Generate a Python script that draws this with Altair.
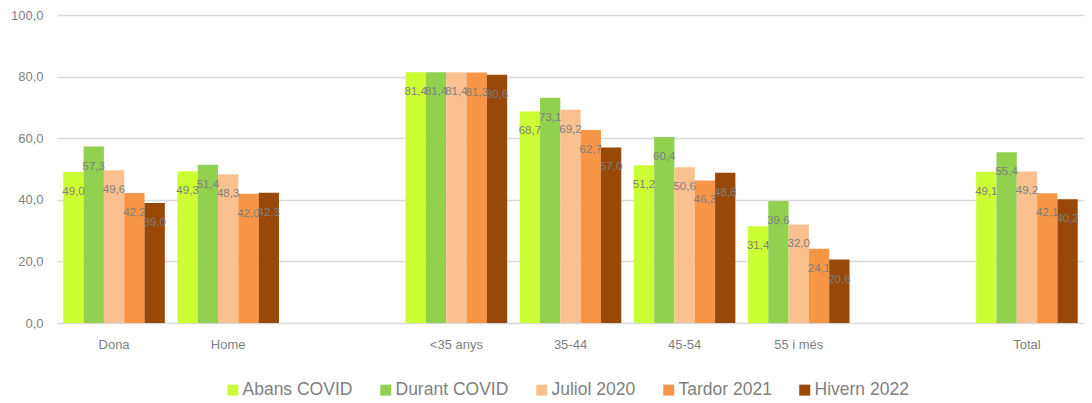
import altair as alt
import pandas as pd

categories = ["Dona", "Home", "<35 anys", "35-44", "45-54", "55 i més", "Total"]
domain_x = ["Dona", "Home", "gap1", "<35 anys", "35-44", "45-54", "55 i més", "gap2", "Total"]
series = ["Abans COVID", "Durant COVID", "Juliol 2020", "Tardor 2021", "Hivern 2022"]
colors = ["#CCFF33", "#92D050", "#FAC090", "#F79646", "#984807"]

abans = [49.0, 49.3, 81.4, 68.7, 51.2, 31.4, 49.1]
durant = [57.3, 51.4, 81.4, 73.1, 60.4, 39.6, 55.4]
juliol = [49.6, 48.3, 81.4, 69.2, 50.6, 32.0, 49.2]
tardor = [42.2, 42.0, 81.3, 62.7, 46.3, 24.1, 42.1]
hivern = [39.0, 42.3, 80.6, 57.0, 48.8, 20.6, 40.2]
y_ticks = [0, 20, 40, 60, 80, 100]

rows = []
for s, vals in zip(series, [abans, durant, juliol, tardor, hivern]):
    for c, v in zip(categories, vals):
        rows.append({"cat": c, "serie": s, "v": v})
df = pd.DataFrame(rows)

FONT = "Liberation Sans, Arial, sans-serif"

x = alt.X("cat:N", scale=alt.Scale(domain=domain_x, paddingInner=0.11, paddingOuter=0.055),
          axis=alt.Axis(title=None, labelAngle=0, ticks=False, domain=False,
                        labelExpr="indexof(datum.label,'gap')==0 ? '' : datum.label",
                        labelFontSize=13, labelColor="#7f7f7f", labelFont=FONT, labelPadding=15))
xo = alt.XOffset("serie:N", scale=alt.Scale(domain=series, paddingInner=0, paddingOuter=0))
y = alt.Y("v:Q", scale=alt.Scale(domain=[0, 100]),
          axis=alt.Axis(title=None, values=y_ticks, domain=False, ticks=False,
                        labelExpr="replace(format(datum.value,'.1f'),'.',',')",
                        labelFontSize=13, labelColor="#7f7f7f", labelFont=FONT, labelPadding=14,
                        gridColor="#d9d9d9", gridWidth=1.5))

bars = alt.Chart(df).mark_bar().encode(
    x=x, xOffset=xo, y=y,
    color=alt.Color("serie:N", scale=alt.Scale(domain=series, range=colors),
                    legend=alt.Legend(title=None, orient="none", direction="horizontal",
                                      legendX=167, legendY=366, symbolType="square",
                                      symbolSize=121, symbolStrokeWidth=0,
                                      labelFontSize=17.5, labelColor="#7f7f7f", labelFont=FONT,
                                      columnPadding=24, labelOffset=1)),
)

labels = alt.Chart(df).transform_calculate(
    lab="replace(format(datum.v,'.1f'),'.',',')"
).mark_text(baseline="middle", align="center", dy=20, fontSize=11.5, color="#7f7f7f", font=FONT).encode(
    x=x, xOffset=xo, y=y, text="lab:N"
)

chart = (bars + labels).properties(
    width=1027, height=308,
    padding={"left": 2, "top": 1, "right": 0, "bottom": 0},
).configure_view(stroke=None)

chart.save("out.html", embed_options={"renderer": "svg", "actions": False})
